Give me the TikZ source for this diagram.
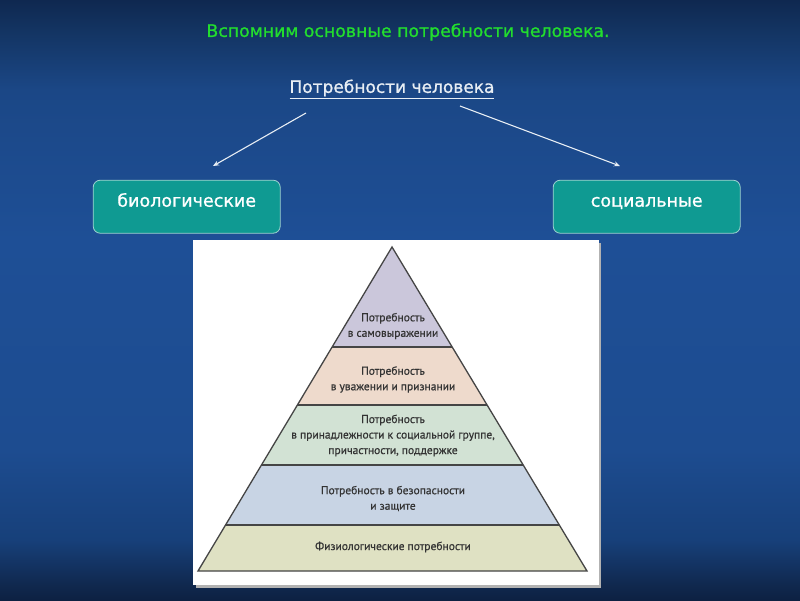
\documentclass[tikz,border=0pt]{standalone}
\usepackage{fontspec}
\setmainfont{DejaVu Sans}
\newfontfamily\headfont[FakeBold=1.0]{DejaVu Sans}
\newfontfamily\pyrfont[FakeBold=0.6]{PT Sans}
\usetikzlibrary{arrows.meta,calc}
\definecolor{bgA}{HTML}{0D2142}
\definecolor{bgB}{HTML}{10284E}
\definecolor{bgC}{HTML}{17407A}
\definecolor{bgD}{HTML}{1D4C90}
\definecolor{bgE}{HTML}{1E4F96}
\definecolor{bgF}{HTML}{1B4786}
\definecolor{bgG}{HTML}{133462}
\definecolor{bgH}{HTML}{0F2850}
\pgfdeclareverticalshading{bgshade}{100bp}{color(0bp)=(bgA); color(25bp)=(bgA); color(26.25bp)=(bgB); color(30bp)=(bgC); color(37.5bp)=(bgD); color(55bp)=(bgE); color(67.5bp)=(bgF); color(72.5bp)=(bgG); color(75bp)=(bgH); color(100bp)=(bgH)}
\definecolor{titlegreen}{HTML}{22DD2E}
\definecolor{subwhite}{HTML}{E8EEF4}
\definecolor{boxteal}{HTML}{0F9A92}
\definecolor{boxedge}{HTML}{9FD3D0}
\definecolor{bandA}{HTML}{CBC7DB}
\definecolor{bandB}{HTML}{EEDACC}
\definecolor{bandC}{HTML}{D2E2D4}
\definecolor{bandD}{HTML}{C8D4E4}
\definecolor{bandE}{HTML}{DFE1C3}
\definecolor{pyrline}{HTML}{454545}
\definecolor{pyrtext}{HTML}{333333}
\tikzset{
  titletext/.style={text=titlegreen, font=\headfont\fontsize{17.3}{21}\selectfont},
  subtext/.style={text=subwhite, font=\headfont\fontsize{17}{20}\selectfont},
  catbox/.style={draw=boxedge, line width=0.8pt, fill=boxteal, rounded corners=7pt,
    minimum width=187pt, minimum height=53pt, text=white,
    font=\headfont\fontsize{17.5}{20}\selectfont, text height=12pt, text depth=12pt},
  linkarrow/.style={draw=subwhite, line width=1.1pt, -{Stealth[length=6pt,width=5pt]}},
  pyrlabel/.style={text=pyrtext, align=center, font=\pyrfont\fontsize{11.5}{15.5}\selectfont, inner sep=0pt},
  bandline/.style={draw=pyrline, line width=1.3pt}
}
\begin{document}
\begin{tikzpicture}[x=1pt,y=-1pt]
\useasboundingbox (0,0) rectangle (800,600);
\shade[shading=bgshade] (0,0) rectangle (800,600);

% title and subtitle
\node[titletext] (title) at (408,32) {Вспомним основные потребности человека.};
\node[subtext] (sub) at (392,89) {\underline{Потребности человека}};

% category boxes
\node[catbox] (bio) at (186.7,206.7) {биологические};
\node[catbox] (soc) at (646.7,206.7) {социальные};

% arrows
\coordinate (a1s) at (306,113);
\coordinate (a1e) at (213,166);
\coordinate (a2s) at (460,106);
\coordinate (a2e) at (620,166);
\draw[linkarrow] (a1s) -- (a1e);
\draw[linkarrow] (a2s) -- (a2e);

% picture frame
\fill[gray!60] (196,243) rectangle (601,588);
\fill[white] (193,240) rectangle (599,585);

% pyramid
\coordinate (A) at (392,247);
\coordinate (BL) at (198,571);
\coordinate (BR) at (587,571);
\coordinate (L1) at ($(A)!0.3086!(BL)$);
\coordinate (R1) at ($(A)!0.3086!(BR)$);
\coordinate (L2) at ($(A)!0.4877!(BL)$);
\coordinate (R2) at ($(A)!0.4877!(BR)$);
\coordinate (L3) at ($(A)!0.6728!(BL)$);
\coordinate (R3) at ($(A)!0.6728!(BR)$);
\coordinate (L4) at ($(A)!0.8580!(BL)$);
\coordinate (R4) at ($(A)!0.8580!(BR)$);

\fill[bandA] (A) -- (R1) -- (L1) -- cycle;
\fill[bandB] (L1) -- (R1) -- (R2) -- (L2) -- cycle;
\fill[bandC] (L2) -- (R2) -- (R3) -- (L3) -- cycle;
\fill[bandD] (L3) -- (R3) -- (R4) -- (L4) -- cycle;
\fill[bandE] (L4) -- (R4) -- (BR) -- (BL) -- cycle;

\draw[bandline] (L1) -- (R1);
\draw[bandline] (L2) -- (R2);
\draw[bandline] (L3) -- (R3);
\draw[bandline] (L4) -- (R4);
\draw[bandline, line join=miter] (A) -- (BR) -- (BL) -- cycle;

\node[pyrlabel] (t1) at (393,326) {Потребность\\в самовыражении};
\node[pyrlabel] (t2) at (393,379.5) {Потребность\\в уважении и признании};
\node[pyrlabel] (t3) at (393,435.5) {Потребность\\в принадлежности к социальной группе,\\причастности, поддержке};
\node[pyrlabel] (t4) at (393,498.5) {Потребность в безопасности\\и защите};
\node[pyrlabel] (t5) at (393,547) {Физиологические потребности};
\end{tikzpicture}
\end{document}
